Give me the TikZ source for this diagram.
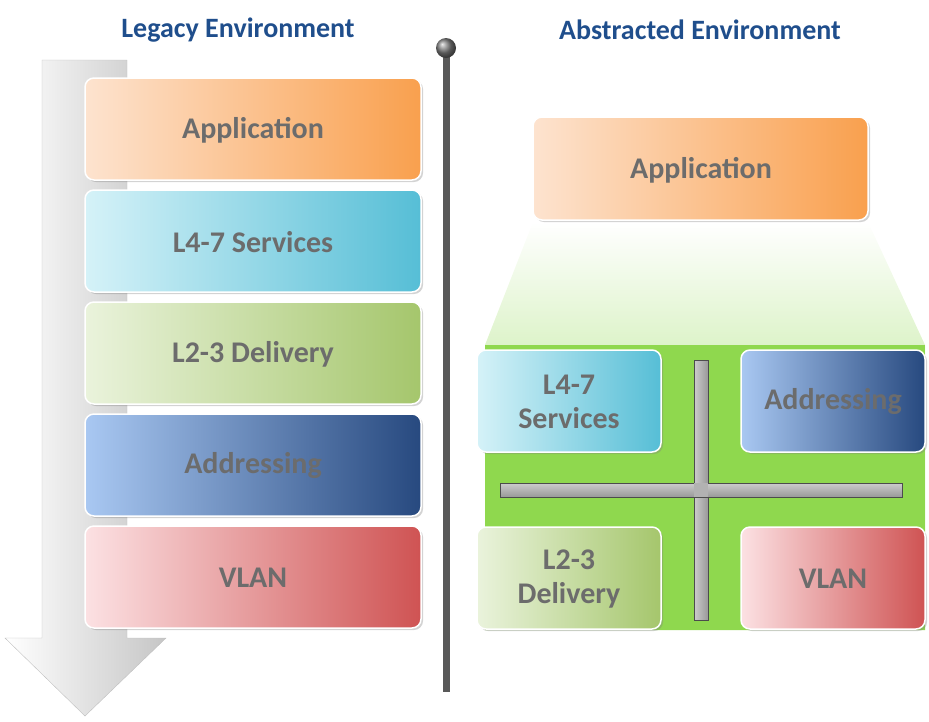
\documentclass[tikz,border=0pt]{standalone}
\usepackage{fontspec}
\setmainfont{Carlito}
\usetikzlibrary{shadows}
\begin{document}
\begin{tikzpicture}[x=1pt,y=-1pt,
 box/.style={rounded corners=9pt,draw=white,line width=1.5pt,drop shadow={shadow xshift=2pt,shadow yshift=-2pt,opacity=.35}},
 lbl/.style={font=\bfseries\fontsize{30}{34}\selectfont,text=gray!85!black,align=center},
 ttl/.style={font=\bfseries\fontsize{28}{30}\selectfont,text=tc}]
\useasboundingbox (0,0) rectangle (929,721);
\definecolor{tc}{HTML}{1F4E8C}
\definecolor{o1}{HTML}{FDE3CF}\definecolor{o2}{HTML}{F9A04E}
\definecolor{c1}{HTML}{D5F2F8}\definecolor{c2}{HTML}{56BED6}
\definecolor{g1}{HTML}{EAF3DC}\definecolor{g2}{HTML}{A5C66C}
\definecolor{b1}{HTML}{A9C8F2}\definecolor{b2}{HTML}{27497F}
\definecolor{r1}{HTML}{FCE1E3}\definecolor{r2}{HTML}{CF5353}
\definecolor{gr}{HTML}{8FD84E}
% titles
\node[ttl] (t1) at (238,30) {Legacy Environment};
\node[ttl] (t2) at (700,30) {Abstracted Environment};
% big arrow
\shade[left color=white,right color=gray!45,draw=gray!50]
 (42,60) -- (127,60) -- (127,638) -- (166,638) -- (85,716) -- (5,638) -- (42,638) -- cycle;
% pole
\fill[gray!70!black] (443,50) rectangle (450,692);
\shade[ball color=gray] (446,48) circle (10);
% left boxes
\foreach \n/\t/\a/\b/\y in {la/Application/o1/o2/78,lb/L4-7 Services/c1/c2/190,lc/L2-3 Delivery/g1/g2/302,ld/Addressing/b1/b2/414,le/VLAN/r1/r2/526}{
 \shade[box,left color=\a,right color=\b] (85,\y) rectangle (421,\y+102);
 \node[lbl] (\n) at (253,\y+52) {\t};
}
% green area
\shade[top color=white,bottom color=gr] (533,222) -- (868,222) -- (925,345) -- (925,630) -- (485,630) -- (485,345) -- cycle;
\fill[gr] (485,345) rectangle (925,630);
% right app
\shade[box,left color=o1,right color=o2] (533,117) rectangle (868,220);
\node[lbl] (ra) at (701,170) {Application};
% cross
\shade[left color=gray!40,right color=gray!80,draw=gray!60!black] (694,360) rectangle (708,620);
\shade[top color=gray!40,bottom color=gray!80,draw=gray!60!black] (500,483) rectangle (902,497);
\fill[gray!60] (694,483) rectangle (708,497);
% right boxes
\foreach \n/\t/\a/\b/\x/\y in {rb/L4-7\\Services/c1/c2/477/350,rd/Addressing/b1/b2/741/350,rc/L2-3\\Delivery/g1/g2/477/527,re/VLAN/r1/r2/741/527}{
 \shade[box,left color=\a,right color=\b] (\x,\y) rectangle (\x+184,\y+102);
 \node[lbl] (\n) at (\x+92,\y+52) {\t};
}
\end{tikzpicture}
\end{document}
